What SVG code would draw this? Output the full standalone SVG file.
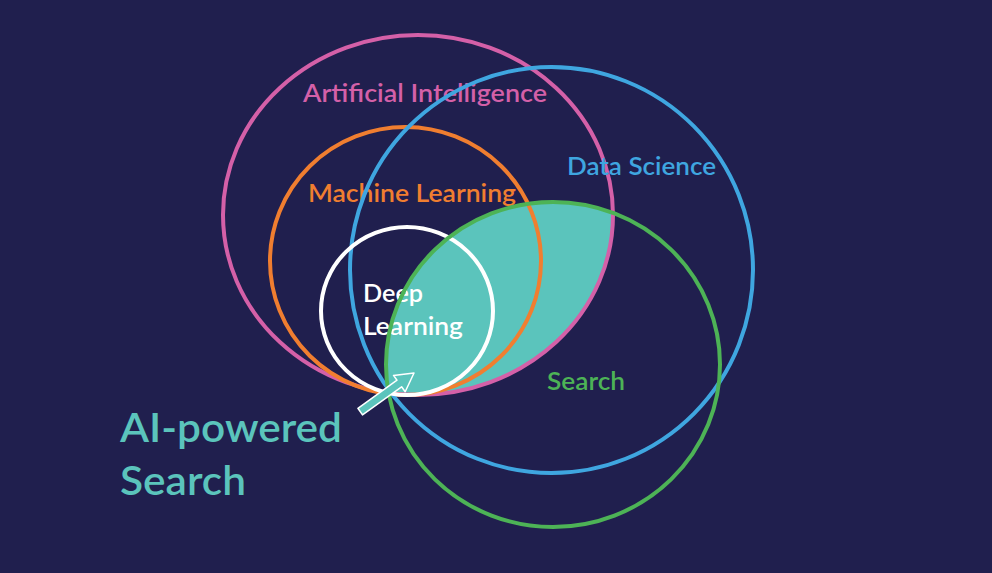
<svg xmlns="http://www.w3.org/2000/svg" width="992" height="573" viewBox="0 0 992 573">
  <style>
    .ring { fill: none; stroke-width: 4; }
    .lbl { font-family: Lato, "Open Sans", "Liberation Sans", sans-serif; font-size: 24.5px; font-weight: 600; }
    .big { font-family: Lato, "Open Sans", "Liberation Sans", sans-serif; font-size: 40px; font-weight: 600; fill: #5BC4BC; }
  </style>
  <defs>
    <clipPath id="aiClip">
      <ellipse cx="418" cy="215" rx="195" ry="180"/>
    </clipPath>
  </defs>
  <rect width="992" height="573" fill="#201F4E"/>
  <g id="overlap">
    <ellipse cx="553" cy="364.5" rx="167" ry="162.5" fill="#5BC4BC" clip-path="url(#aiClip)"/>
  </g>
  <g id="ai">
    <ellipse class="ring" cx="418" cy="215" rx="195" ry="180" stroke="#D460A8"/>
    <text class="lbl" x="303" y="102" fill="#D460A8" textLength="244" lengthAdjust="spacingAndGlyphs">Artificial Intelligence</text>
  </g>
  <g id="ml">
    <ellipse class="ring" cx="405.5" cy="261" rx="135.5" ry="134" stroke="#F07E30"/>
    <text class="lbl" x="308" y="202" fill="#F07E30" textLength="208" lengthAdjust="spacingAndGlyphs">Machine Learning</text>
  </g>
  <g id="ds">
    <ellipse class="ring" cx="551.5" cy="270" rx="201.5" ry="203" stroke="#3FA6E0"/>
    <text class="lbl" x="567" y="175" fill="#3FA6E0" textLength="149" lengthAdjust="spacingAndGlyphs">Data Science</text>
  </g>
  <g id="dl">
    <ellipse class="ring" cx="407" cy="311" rx="86" ry="84" stroke="#FFFFFF"/>
    <text class="lbl" x="363" y="302" fill="#FFFFFF" textLength="60" lengthAdjust="spacingAndGlyphs">Deep</text>
    <text class="lbl" x="363" y="335" fill="#FFFFFF" textLength="100" lengthAdjust="spacingAndGlyphs">Learning</text>
  </g>
  <g id="search">
    <ellipse class="ring" cx="553" cy="364.5" rx="167" ry="162.5" stroke="#4DB356"/>
    <text class="lbl" x="547" y="390" fill="#4DB356" textLength="78" lengthAdjust="spacingAndGlyphs">Search</text>
  </g>
  <g id="connectors">
    <polygon points="357.9,408.3 397,380.2 393.5,375.4 414,373 405.2,391.7 401.6,386.8 362.5,414.9" fill="#5BC4BC" stroke="#FFFFFF" stroke-width="1.5" stroke-linejoin="round"/>
  </g>
  <g id="aisearch">
    <text class="big" x="120" y="442" textLength="222" lengthAdjust="spacingAndGlyphs">AI-powered</text>
    <text class="big" x="120" y="495" textLength="126" lengthAdjust="spacingAndGlyphs">Search</text>
  </g>
</svg>
